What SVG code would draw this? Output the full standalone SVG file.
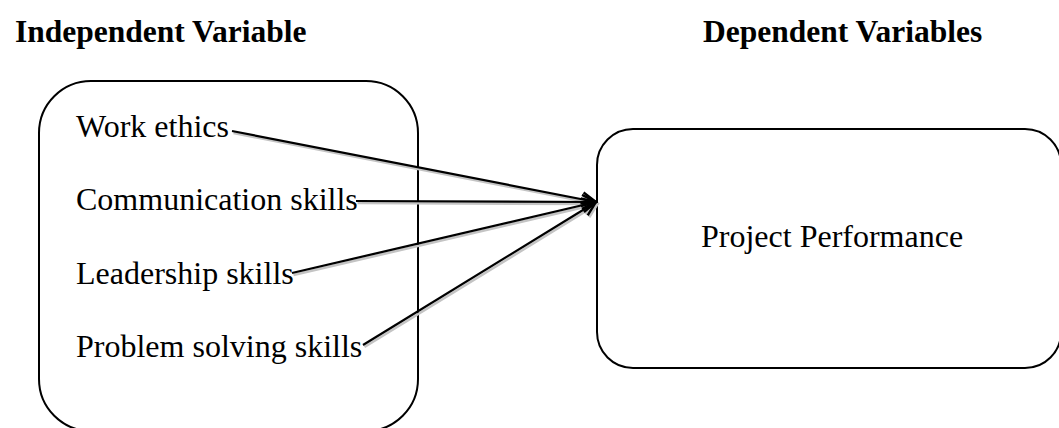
<svg xmlns="http://www.w3.org/2000/svg" width="1059" height="428" viewBox="0 0 1059 428">
  <style>
    .box { fill: #ffffff; stroke: #000000; stroke-width: 2; }
    .t { font-family: "Liberation Serif", "Times New Roman", serif; font-size: 32px; fill: #000000; }
    .h { font-family: "Liberation Serif", "Times New Roman", serif; font-size: 31.5px; font-weight: bold; fill: #000000; }
    .conn { stroke: #000000; stroke-width: 2.2; fill: none; marker-end: url(#arrow); }
    .shadow { stroke: #c4c4c4; stroke-width: 2.6; fill: none; marker-end: url(#arrowShadow); }
  </style>
  <defs>
    <marker id="arrow" markerUnits="userSpaceOnUse" markerWidth="20" markerHeight="20" viewBox="0 0 20 20" refX="18" refY="10" orient="auto">
      <path d="M4,3 L18,10 L4,17" fill="none" stroke="#000000" stroke-width="2.4"/>
    </marker>
    <marker id="arrowShadow" markerUnits="userSpaceOnUse" markerWidth="20" markerHeight="20" viewBox="0 0 20 20" refX="18" refY="10" orient="auto">
      <path d="M4,3 L18,10 L4,17" fill="none" stroke="#c4c4c4" stroke-width="2.6"/>
    </marker>
  </defs>
  <rect width="1059" height="428" fill="#ffffff"/>

  <g id="heading-independent">
    <text class="h" x="15" y="42">Independent Variable</text>
  </g>
  <g id="heading-dependent">
    <text class="h" x="703" y="42">Dependent Variables</text>
  </g>

  <g id="node-independent">
    <rect class="box" x="39" y="81" width="379" height="350" rx="52" ry="52"/>
    <text class="t" x="76" y="137">Work ethics</text>
    <text class="t" x="76" y="210">Communication skills</text>
    <text class="t" x="76" y="284">Leadership skills</text>
    <text class="t" x="76" y="357">Problem solving skills</text>
  </g>

  <g id="node-dependent">
    <rect class="box" x="597" y="129" width="464" height="239" rx="36" ry="36"/>
    <text class="t" x="701" y="247">Project Performance</text>
  </g>

  <g id="connectors">
    <g transform="translate(1.5,2)">
      <line class="shadow" x1="232" y1="131" x2="596" y2="202"/>
      <line class="shadow" x1="356" y1="201" x2="596" y2="202"/>
      <line class="shadow" x1="292" y1="273" x2="596" y2="202"/>
      <line class="shadow" x1="363" y1="345" x2="596" y2="202"/>
    </g>
    <line class="conn" x1="232" y1="131" x2="596" y2="202"/>
    <line class="conn" x1="356" y1="201" x2="596" y2="202"/>
    <line class="conn" x1="292" y1="273" x2="596" y2="202"/>
    <line class="conn" x1="363" y1="345" x2="596" y2="202"/>
  </g>
</svg>
